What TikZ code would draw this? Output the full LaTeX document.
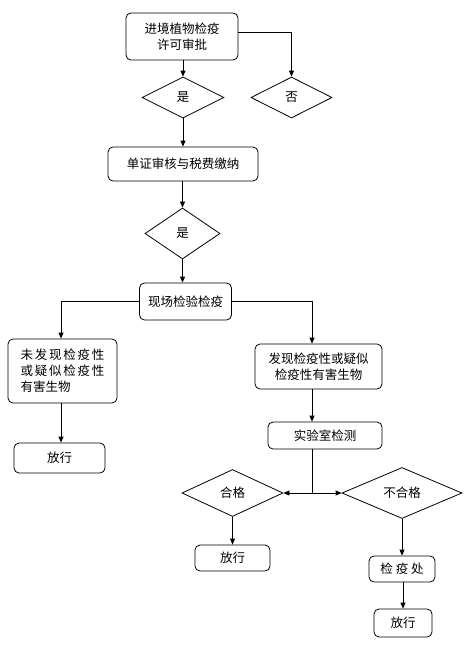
\documentclass[tikz,border=0pt]{standalone}
\usepackage{fontspec}
\setmainfont{Noto Sans CJK SC}
\usetikzlibrary{shapes.geometric,arrows.meta}
\begin{document}
\begin{tikzpicture}[x=1pt,y=-1pt,
  every node/.style={font=\fontsize{12.5}{16}\selectfont},
  box/.style={draw, rounded corners=5pt, line width=0.8pt, inner sep=0pt, align=center, minimum width=#1},
  dia/.style={draw, diamond, line width=0.8pt, inner sep=0pt},
  arr/.style={line width=0.8pt, -{Triangle[length=6pt,width=5pt]}},
  ln/.style={line width=0.8pt}]
\useasboundingbox (0,0) rectangle (472,645);
\node[box=112, minimum height=47] (b1) at (182,36.5) {进境植物检疫\\许可审批};
\node[dia, minimum width=82, minimum height=41] (d1) at (183,97.5) {是};
\node[dia, minimum width=81, minimum height=41] (d0) at (291.5,97.5) {否};
\node[box=150, minimum height=34] (b2) at (183,164) {单证审核与税费缴纳};
\node[dia, minimum width=75, minimum height=51] (d2) at (182.5,233.5) {是};
\node[box=92, minimum height=37] (b3) at (185.5,301.5) {现场检验检疫};
\node[box=109, minimum height=64, align=left] (b4) at (62.5,371)
  {{\addfontfeature{LetterSpace=14}未发现检疫性}\\{\addfontfeature{LetterSpace=14}或疑似检疫性}\\有害生物};
\node[box=91, minimum height=30] (f1) at (59.5,458) {放行};
\node[box=127, minimum height=45] (b5) at (318.5,366.5) {发现检疫性或疑似\\检疫性有害生物};
\node[box=114, minimum height=27] (b6) at (325,435.5) {实验室检测};
\node[dia, minimum width=101, minimum height=47] (d3) at (232.5,493) {合格};
\node[dia, minimum width=120, minimum height=51] (d4) at (402,493) {不合格};
\node[box=75, minimum height=26] (f2) at (232.5,558) {放行};
\node[box=66, minimum height=26] (b7) at (402,569) {检 疫 处};
\node[box=58, minimum height=28] (f3) at (403,623) {放行};
\coordinate (c1) at (312,0);
\draw[arr] (d1.north |- b1.south) -- (d1.north);
\draw[arr] (b1.east) ++(0,-4) -| (d0.north);
\draw[arr] (d1.south) -- (b2.north -| d1.south);
\draw[arr] (b2.south -| d2.north) -- (d2.north);
\draw[arr] (d2.south) -- (d2.south |- b3.north);
\draw[arr] (b3.west) -| (b4.north -| 61,0);
\draw[arr] (b3.east) -| (c1 |- b5.north);
\draw[arr] (b4.south -| 61,0) -- (f1.north -| 61,0);
\draw[arr] (c1 |- b5.south) -- (c1 |- b6.north);
\draw[ln] (c1 |- b6.south) -- (c1 |- d3.east) coordinate (j);
\draw[arr] (j) -- (d3.east);
\draw[arr] (j) -- (d4.west);
\draw[arr] (d3.south) -- (d3.south |- f2.north);
\draw[arr] (d4.south) -- (b7.north);
\draw[arr] (b7.south -| f3.north) -- (f3.north);
\end{tikzpicture}
\end{document}
